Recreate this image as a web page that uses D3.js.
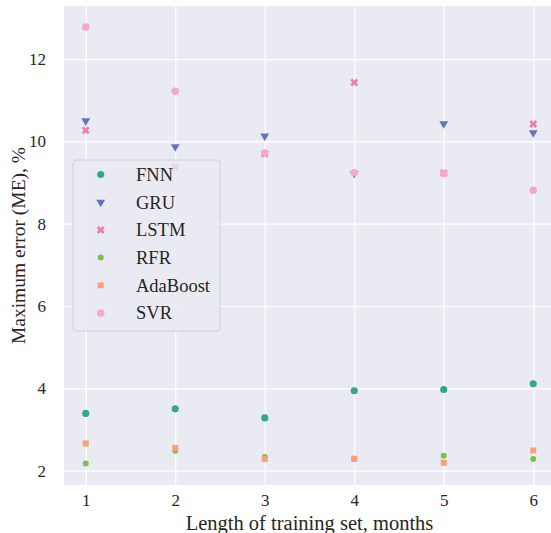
<!DOCTYPE html>
<html>
<head>
<meta charset="utf-8">
<script src="https://cdn.jsdelivr.net/npm/d3@7"></script>
<style>
  body { margin: 0; background: #fff; }
  text { font-family: "Liberation Serif", "DejaVu Serif", serif; fill: #262626; }
</style>
</head>
<body>
<div id="chart"></div>
<script>
// values
var months = [1, 2, 3, 4, 5, 6];
var fnn = [3.39, 3.50, 3.28, 3.94, 3.97, 4.11];
var gru = [10.50, 9.87, 10.13, 9.22, 10.43, 10.21];
var lstm = [10.27, 9.37, 9.70, 11.43, 9.23, 10.42];
var rfr = [2.17, 2.48, 2.33, 2.28, 2.36, 2.28];
var adaboost = [2.66, 2.55, 2.28, 2.29, 2.19, 2.49];
var svr = [12.78, 11.22, 9.72, 9.24, 9.22, 8.81];
var yTicks = [2, 4, 6, 8, 10, 12];

var series = [
    {name: "FNN", values: fnn, color: "#36a68b", symbol: d3.symbolCircle, size: 40, rot: 0},
    {name: "GRU", values: gru, color: "#6474b7", symbol: d3.symbolTriangle, size: 34, rot: 180},
    {name: "LSTM", values: lstm, color: "#ec7faf", symbol: d3.symbolCross, size: 40, rot: 45},
    {name: "RFR", values: rfr, color: "#7cc04f", symbol: d3.symbolCircle, size: 28, rot: 0},
    {name: "AdaBoost", values: adaboost, color: "#f6a17b", symbol: d3.symbolSquare, size: 36, rot: 0},
    {name: "SVR", values: svr, color: "#f5a8cb", symbol: d3.symbolCircle, size: 44, rot: 0}
];

var W = 551, H = 533;
var margin = {top: 6, right: -4, bottom: 48, left: 64};
var width = W - margin.left - margin.right,
    height = H - margin.top - margin.bottom;

var svg = d3.select("#chart").append("svg")
    .attr("width", W)
    .attr("height", H);

var g = svg.append("g")
    .attr("transform", "translate(" + margin.left + "," + margin.top + ")");

var x = d3.scaleLinear().domain([0.757, 6.243]).range([0, width]);
var y = d3.scaleLinear().domain([1.65, 13.29]).range([height, 0]);

// background
g.append("rect")
    .attr("width", width)
    .attr("height", height)
    .attr("fill", "#eaeaf2");

// grid via axes
var xAxis = g.append("g")
    .attr("transform", "translate(0," + height + ")")
    .call(d3.axisBottom(x).tickValues(months).tickSize(-height).tickPadding(9).tickFormat(d3.format("d")));
var yAxis = g.append("g")
    .call(d3.axisLeft(y).tickValues(yTicks).tickSize(-width).tickPadding(18).tickFormat(d3.format("d")));

[xAxis, yAxis].forEach(function(a) {
    a.select(".domain").remove();
    a.selectAll("line").attr("stroke", "#ffffff").attr("stroke-width", 1.2);
    a.selectAll("text")
        .style("font-family", "'Liberation Serif', serif")
        .style("font-size", "17px")
        .attr("fill", "#262626");
});

// points
series.forEach(function(s) {
    var sym = d3.symbol().type(s.symbol).size(s.size);
    g.append("g").selectAll("path")
        .data(s.values)
        .enter()
        .append("path")
        .attr("d", sym)
        .attr("fill", s.color)
        .attr("transform", function(d, i) {
            return "translate(" + x(months[i]) + "," + y(d) + ") rotate(" + s.rot + ")";
        });
});

// axis labels
svg.append("text")
    .attr("x", margin.left + width / 2)
    .attr("y", 530)
    .attr("text-anchor", "middle")
    .style("font-size", "20.5px")
    .text("Length of training set, months");

svg.append("text")
    .attr("transform", "translate(25," + (margin.top + height / 2) + ") rotate(-90)")
    .attr("text-anchor", "middle")
    .style("font-size", "19.5px")
    .text("Maximum error (ME), %");

// legend
var legend = svg.append("g").attr("transform", "translate(73,160)");
legend.append("rect")
    .attr("width", 147)
    .attr("height", 171)
    .attr("rx", 3)
    .attr("fill", "#eaeaf2")
    .attr("fill-opacity", 0.8)
    .attr("stroke", "#cccccc")
    .attr("stroke-width", 0.8);

var item = legend.selectAll(".item")
    .data(series)
    .enter()
    .append("g")
    .attr("class", "item")
    .attr("transform", function(d, i) { return "translate(0," + (14.5 + i * 27.7) + ")"; });

item.append("path")
    .attr("d", function(d) { return d3.symbol().type(d.symbol).size(d.size)(); })
    .attr("fill", function(d) { return d.color; })
    .attr("transform", function(d) { return "translate(27.7,0) rotate(" + d.rot + ")"; });

item.append("text")
    .attr("x", 63)
    .attr("dy", "0.35em")
    .style("font-size", "18.5px")
    .text(function(d) { return d.name; });
</script>
</body>
</html>
